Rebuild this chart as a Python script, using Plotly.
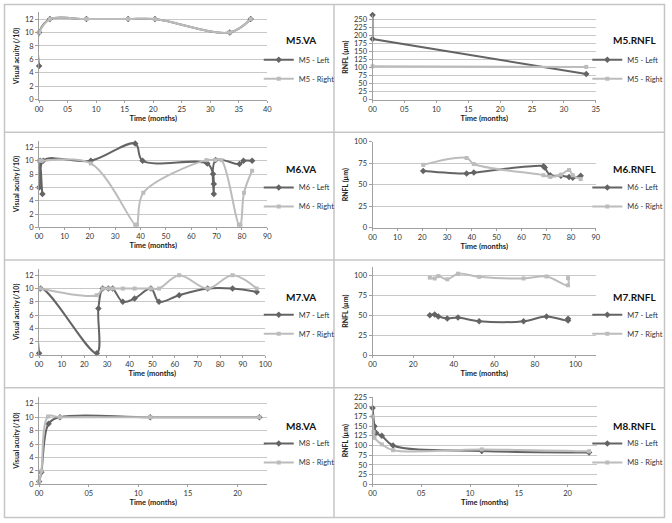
import plotly.graph_objects as go

W, H = 672, 523

# ---------------- data ----------------
m5_va_left_x = [0, 0, 1.9, 8.3, 15.6, 20.3, 33.4, 37.1]
m5_va_left_y = [5, 10, 12, 12, 12, 12, 10, 12]
m5_va_right_x = [0, 1.9, 8.3, 15.6, 20.3, 33.4, 37.1]
m5_va_right_y = [10, 12, 12, 12, 12, 10, 12]

m5_rnfl_left_x = [0, 0, 33.5]
m5_rnfl_left_y = [264, 189, 80]
m5_rnfl_right_x = [0, 33.5]
m5_rnfl_right_y = [104, 102]

m6_va_left_x = [0, 0.4, 1.3, 1.6, 20.4, 37.9, 40.8, 66.3, 68.6, 68.9, 68.9, 69.6, 79.0, 80.6, 84.0]
m6_va_left_y = [6.0, 10.0, 5.0, 10.0, 10.0, 12.6, 10.0, 9.6, 8.0, 6.5, 5.0, 10.1, 9.5, 10.0, 10.0]
m6_va_right_x = [0, 1.0, 20.4, 37.9, 38.6, 41.1, 66.0, 69.3, 71.9, 78.8, 79.4, 80.8, 84.0]
m6_va_right_y = [10.0, 10.0, 9.6, 0.4, 0.4, 5.2, 10.1, 10.1, 10.1, 0.4, 0.4, 5.2, 8.5]

m6_rnfl_left_x = [20.4, 37.9, 40.8, 68.9, 69.4, 71.6, 75.9, 79.2, 80.7, 83.9]
m6_rnfl_left_y = [66, 63, 64, 71.5, 70, 61, 60.5, 59, 58, 60.5]
m6_rnfl_right_x = [20.4, 37.9, 40.8, 68.9, 71.6, 75.9, 79.2, 80.7, 83.9]
m6_rnfl_right_y = [73, 81, 74, 61, 59, 61.5, 67, 61, 56.5]

m7_va_left_x = [0, 0.7, 25.5, 26.2, 28.1, 30.6, 32.5, 37.0, 42.2, 49.4, 53.0, 61.9, 74.5, 85.5, 96.2]
m7_va_left_y = [0.3, 10.0, 0.3, 7.0, 10.0, 10.0, 10.0, 8.0, 8.5, 10.0, 8.0, 9.0, 10.0, 10.0, 9.5]
m7_va_right_x = [0.5, 25.5, 28.1, 30.6, 32.5, 37.0, 42.2, 49.4, 53.0, 61.9, 74.5, 85.5, 96.2]
m7_va_right_y = [10, 9, 10, 10, 10, 10, 10, 10, 10, 12, 10, 12, 10]

m7_rnfl_left_x = [28.2, 30.6, 32.4, 36.8, 42.1, 52.5, 74.4, 85.7, 96.3, 96.3]
m7_rnfl_left_y = [50, 51, 48.5, 46, 47, 42.5, 42.5, 48.5, 43.5, 45.5]
m7_rnfl_right_x = [28.2, 30.6, 32.4, 36.8, 42.1, 52.5, 74.4, 85.7, 96.3, 96.3]
m7_rnfl_right_y = [97, 96, 99, 95, 102, 98, 96, 98.5, 87.5, 96.5]

m8_va_left_x = [0, 0.23, 0.95, 2.1, 11.2, 22.2]
m8_va_left_y = [0.4, 1.8, 9.0, 10, 10, 10]
m8_va_right_x = [0, 0.23, 0.9, 2.1, 11.2, 22.2]
m8_va_right_y = [0.4, 2.0, 10.1, 10.0, 10, 10]

m8_rnfl_left_x = [0, 0.2, 0.35, 0.95, 2.1, 11.2, 22.2]
m8_rnfl_left_y = [197, 150, 133, 125, 100, 86, 82]
m8_rnfl_right_x = [0, 0.1, 0.2, 0.95, 2.1, 11.2, 22.2]
m8_rnfl_right_y = [175, 135, 120, 103, 88, 90, 85]

titles = ["M5.VA", "M5.RNFL", "M6.VA", "M6.RNFL", "M7.VA", "M7.RNFL", "M8.VA", "M8.RNFL"]
patients = ["M5", "M5", "M6", "M6", "M7", "M7", "M8", "M8"]
series = [
    (m5_va_left_x, m5_va_left_y, m5_va_right_x, m5_va_right_y),
    (m5_rnfl_left_x, m5_rnfl_left_y, m5_rnfl_right_x, m5_rnfl_right_y),
    (m6_va_left_x, m6_va_left_y, m6_va_right_x, m6_va_right_y),
    (m6_rnfl_left_x, m6_rnfl_left_y, m6_rnfl_right_x, m6_rnfl_right_y),
    (m7_va_left_x, m7_va_left_y, m7_va_right_x, m7_va_right_y),
    (m7_rnfl_left_x, m7_rnfl_left_y, m7_rnfl_right_x, m7_rnfl_right_y),
    (m8_va_left_x, m8_va_left_y, m8_va_right_x, m8_va_right_y),
    (m8_rnfl_left_x, m8_rnfl_left_y, m8_rnfl_right_x, m8_rnfl_right_y),
]
x_ranges = [[0, 40], [0, 35], [0, 90], [0, 90], [0, 100], [0, 110], [0, 23], [0, 23]]
x_dticks = [5, 5, 10, 10, 10, 20, 5, 5]
y_ranges = [[0, 13], [0, 265], [0, 13], [0, 100], [0, 13], [0, 110], [0, 13], [0, 225]]
y_dticks = [2, 25, 2, 25, 2, 25, 2, 25]
y_titles = ["Visual acuity (/10)", "RNFL (µm)"] * 4
shapes_line = ["spline", "linear", "spline", "spline", "spline", "spline", "spline", "spline"]

# ---------------- layout geometry (pixels) ----------------
x_px = [(35.7, 267.7), (374.7, 601.7), (35.7, 267.7), (374.7, 601.7),
        (35.7, 265.7), (374.7, 601.7), (35.7, 267.7), (374.7, 602.7)]
y_px = [(8.5, 97.3), (10.8, 97.3), (139.2, 227.3), (140.0, 227.7),
        (269.2, 357.3), (267.9, 357.3), (399.9, 488.7), (400.0, 488.7)]
title_px = [(302, 37), (641, 37), (302, 168), (641, 168), (302, 298), (641, 298), (302, 429), (641, 429)]
legend_px = [(259, 42), (593, 42), (259, 172), (593, 172), (259, 301.5), (593, 301.5), (259, 432.5), (593, 432.5)]

DARK = "#646464"
LIGHT = "#bcbcbc"
FONT = "Lato"
GRID = "#c8c8c8"
AXIS = "#a0a0a0"

fig = go.Figure()
layout = dict(
    width=W, height=H, margin=dict(l=0, r=0, t=0, b=0),
    paper_bgcolor="white", plot_bgcolor="white",
    font=dict(family=FONT, size=8, color="#333333"),
    showlegend=True,
)
annotations = []
for i in range(8):
    n = i + 1
    xs = "x" if n == 1 else f"x{n}"
    ys = "y" if n == 1 else f"y{n}"
    lg = "legend" if n == 1 else f"legend{n}"
    lx, ly, rx, ry = series[i]
    p = patients[i]
    fig.add_trace(go.Scatter(
        x=lx, y=ly, name=f"{p} - Left", mode="lines+markers", xaxis=xs, yaxis=ys, legend=lg,
        line=dict(color=DARK, width=2, shape=shapes_line[i]),
        marker=dict(symbol="diamond", size=5, color=DARK),
        cliponaxis=False))
    fig.add_trace(go.Scatter(
        x=rx, y=ry, name=f"{p} - Right", mode="lines+markers", xaxis=xs, yaxis=ys, legend=lg,
        line=dict(color=LIGHT, width=2, shape=shapes_line[i]),
        marker=dict(symbol="square", size=4, color=LIGHT),
        cliponaxis=False))
    xd = [x_px[i][0] / W, x_px[i][1] / W]
    yd = [1 - y_px[i][1] / H, 1 - y_px[i][0] / H]
    xk = "xaxis" if n == 1 else f"xaxis{n}"
    yk = "yaxis" if n == 1 else f"yaxis{n}"
    layout[xk] = dict(
        domain=xd, range=x_ranges[i], dtick=x_dticks[i], tick0=0, tickformat="02d",
        showgrid=False, zeroline=False, showline=True, linecolor=AXIS, linewidth=1,
        ticks="outside", ticklen=2, tickcolor=AXIS, anchor=ys,
        tickfont=dict(family=FONT, size=7.5, color="#333333"),
        title=dict(text="<b>Time (months)</b>", font=dict(family=FONT, size=7.5, color="#222222"), standoff=2),
        fixedrange=True)
    layout[yk] = dict(
        domain=yd, range=y_ranges[i], dtick=y_dticks[i], tick0=0,
        showgrid=True, gridcolor=GRID, gridwidth=1, zeroline=False,
        showline=True, linecolor=AXIS, linewidth=1,
        ticks="outside", ticklen=3, tickcolor=AXIS, anchor=xs,
        tickfont=dict(family=FONT, size=7.5, color="#333333"),
        title=dict(text=f"<b>{y_titles[i]}</b>", font=dict(family=FONT, size=7, color="#222222"), standoff=4),
        fixedrange=True)
    layout[lg] = dict(
        x=legend_px[i][0] / W, y=1 - legend_px[i][1] / H, xanchor="left", yanchor="top",
        bgcolor="rgba(0,0,0,0)", borderwidth=0, itemwidth=30, tracegroupgap=0,
        font=dict(family=FONT, size=7.5, color="#333333"))
    annotations.append(dict(
        text=f"<b>{titles[i]}</b>", x=title_px[i][0] / W, y=1 - title_px[i][1] / H,
        xref="paper", yref="paper", xanchor="center", yanchor="middle", showarrow=False,
        font=dict(family=FONT, size=10, color="#111111")))

SEP = "#c6c6c6"
shapes = [
    dict(type="rect", xref="paper", yref="paper", x0=0.5 / W, x1=1 - 0.5 / W, y0=0.5 / H, y1=1 - 0.5 / H,
         line=dict(color=SEP, width=1.5)),
    dict(type="line", xref="paper", yref="paper", x0=335.5 / W, x1=335.5 / W, y0=0, y1=1,
         line=dict(color=SEP, width=1.5)),
]
for yy in (130.5, 260.5, 390.5):
    shapes.append(dict(type="line", xref="paper", yref="paper", x0=0, x1=1, y0=1 - yy / H, y1=1 - yy / H,
                       line=dict(color=SEP, width=1.5)))

layout["annotations"] = annotations
layout["shapes"] = shapes
fig.update_layout(**layout)
fig.write_html("out.html", config={"displayModeBar": False},
               post_script="document.body.style.margin='0';document.body.style.overflow='hidden';")
